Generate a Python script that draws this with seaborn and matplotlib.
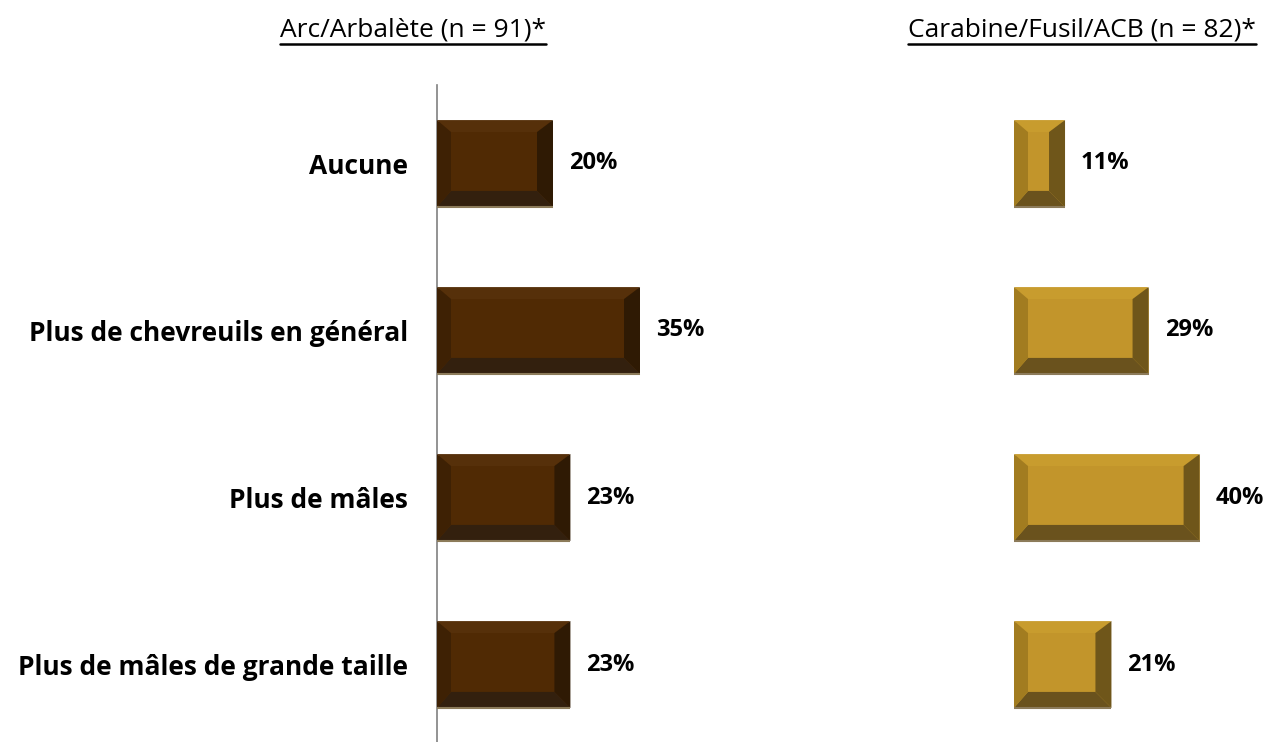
import matplotlib
matplotlib.use("Agg")
import matplotlib.pyplot as plt
from matplotlib.patches import Polygon
from matplotlib.lines import Line2D
import seaborn as sns
import pandas as pd

categories = ["Aucune", "Plus de chevreuils en général", "Plus de mâles",
              "Plus de mâles de grande taille"]
arc_values = [20, 35, 23, 23]
fusil_values = [11, 29, 40, 21]
titles = ["Arc/Arbalète (n = 91)*", "Carabine/Fusil/ACB (n = 82)*"]

sns.set_theme(style="white")
plt.rcParams["font.family"] = ["Open Sans", "DejaVu Sans"]
plt.rcParams["text.color"] = "black"

W, H = 1273, 742
fig = plt.figure(figsize=(W / 100, H / 100), dpi=100)

ax1 = fig.add_axes([437 / W, 0, 319 / W, 657 / H])
ax2 = fig.add_axes([1014 / W, 0, 232 / W, 657 / H])

# colours: face, top, left, right, bottom
brown = ["#502A04", "#56300A", "#3E2104", "#2F1A04", "#33200E"]
gold = ["#C2952B", "#C89C2E", "#A27C20", "#6F561A", "#6A521D"]


def bevel_bars(ax, pal, px_w, px_h, bev=(14, 12, 16, 16)):
    # bev = left, top, right, bottom in pixels
    xr = ax.get_xlim()[1] - ax.get_xlim()[0]
    yr = abs(ax.get_ylim()[0] - ax.get_ylim()[1])
    sx, sy = xr / px_w, yr / px_h
    l, t, r, b = bev[0] * sx, bev[1] * sy, bev[2] * sx, bev[3] * sy
    for p in ax.patches:
        x0, w = p.get_x(), p.get_width()
        yt, h = p.get_y(), p.get_height()
        x1, yb = x0 + w, yt + h
        TL, TR, BR, BL = (x0, yt), (x1, yt), (x1, yb), (x0, yb)
        iTL, iTR = (x0 + l, yt + t), (x1 - r, yt + t)
        iBR, iBL = (x1 - r, yb - b), (x0 + l, yb - b)
        for pts, c in [([TL, TR, iTR, iTL], pal[1]),
                       ([TR, BR, iBR, iTR], pal[3]),
                       ([BL, BR, iBR, iBL], pal[4]),
                       ([TL, BL, iBL, iTL], pal[2])]:
            ax.add_patch(Polygon(pts, closed=True, facecolor=c,
                                 edgecolor="none", zorder=3))
        ax.plot([x0, x1], [yb, yb], color="#8C7B5A", lw=1.5, zorder=4,
                solid_capstyle="butt")


for ax, vals, pal, pw in [(ax1, arc_values, brown, 319),
                          (ax2, fusil_values, gold, 232)]:
    df = pd.DataFrame({"cat": categories, "val": vals})
    sns.barplot(data=df, x="val", y="cat", orient="h", color=pal[0],
                saturation=1, width=0.52, ax=ax, zorder=2)
    ax.set_xlim(0, 55 if ax is ax1 else 50)
    ax.set_ylim(3.464, -0.47)
    bevel_bars(ax, pal, pw, 657)
    for p, v in zip(ax.patches, vals):
        ax.text(p.get_x() + p.get_width() + 16 * (ax.get_xlim()[1] / pw),
                p.get_y() + p.get_height() / 2, f"{v}%",
                ha="left", va="center", fontsize=17, fontweight="bold",
                color="black", clip_on=False)
    ax.set_xlabel("")
    ax.set_ylabel("")
    ax.set_xticks([])
    for s in ["top", "right", "bottom"]:
        ax.spines[s].set_visible(False)

ax1.spines["left"].set_color("#808080")
ax1.spines["left"].set_linewidth(1.2)
ax1.set_yticks(range(len(categories)))
ax1.set_yticklabels(categories, fontsize=19, fontweight="bold", color="black")
ax1.tick_params(axis="y", length=0, pad=21)
ax2.spines["left"].set_visible(False)
ax2.set_yticks([])

# underlined panel titles
renderer = fig.canvas.get_renderer()
for cx, txt in [(413, titles[0]), (1082, titles[1])]:
    t = fig.text(cx / W, 1 - 30 / H, txt, ha="center", va="center",
                 fontsize=19, color="black")
    bb = t.get_window_extent(renderer)
    fig.add_artist(Line2D([bb.x0 / W, bb.x1 / W], [1 - 44 / H, 1 - 44 / H],
                          color="black", lw=1.8, transform=fig.transFigure))

fig.savefig("out.png", dpi=100)
